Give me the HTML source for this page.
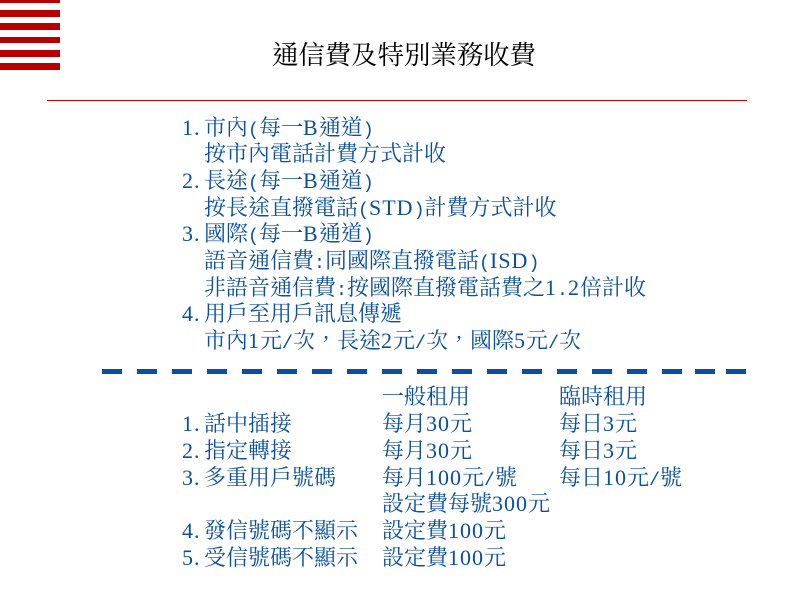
<!DOCTYPE html>
<html><head><meta charset="utf-8"><style>
body{margin:0;width:800px;height:600px;background:#fff;position:relative;overflow:hidden}
.s{position:absolute;left:0;width:60px;background:#b80000}
.t{position:absolute;white-space:nowrap;font-family:"Liberation Serif","Noto Serif CJK TC","Noto Serif CJK SC",serif;font-size:22px;line-height:22px;color:#0a4fa2}
.t b{font-weight:normal;font-family:"Liberation Serif",serif;font-size:22px;letter-spacing:1px}
.t i{font-style:normal;font-family:"Liberation Mono",monospace;font-size:18.3px}
.d{position:absolute;top:369px;width:20px;height:5px;background:#0a4fa2}
</style></head><body>
<div class="s" style="top:0;height:3px"></div>
<div class="s" style="top:10px;height:7px"></div>
<div class="s" style="top:23px;height:7px"></div>
<div class="s" style="top:37px;height:6px"></div>
<div class="s" style="top:50px;height:7px"></div>
<div class="s" style="top:63px;height:7px"></div>
<div class="t" style="left:272px;top:42px;font-size:26.4px;line-height:26px;color:#000">通信費及特別業務收費</div>
<div style="position:absolute;left:47px;top:100px;width:700px;height:1px;background:#d00000"></div>

<div class="t" style="left:182px;top:117px"><b>1.</b></div><div class="t" style="left:204px;top:117px">市內<i>(</i>每一<b>B</b>通道<i>)</i></div>
<div class="t" style="left:204px;top:143px">按市內電話計費方式計收</div>
<div class="t" style="left:182px;top:170px"><b>2.</b></div><div class="t" style="left:204px;top:170px">長途<i>(</i>每一<b>B</b>通道<i>)</i></div>
<div class="t" style="left:204px;top:197px">按長途直撥電話<i>(</i><b>STD</b><i>)</i>計費方式計收</div>
<div class="t" style="left:182px;top:223px"><b>3.</b></div><div class="t" style="left:204px;top:223px">國際<i>(</i>每一<b>B</b>通道<i>)</i></div>
<div class="t" style="left:204px;top:250px">語音通信費<i>:</i>同國際直撥電話<i>(</i><b>ISD</b><i>)</i></div>
<div class="t" style="left:204px;top:277px">非語音通信費<i>:</i>按國際直撥電話費之<b>1</b><i>.</i><b>2</b>倍計收</div>
<div class="t" style="left:182px;top:303px"><b>4.</b></div><div class="t" style="left:204px;top:303px">用戶至用戶訊息傳遞</div>
<div class="t" style="left:204px;top:330px">市內<b>1</b>元<i>/</i>次，長途<b>2</b>元<i>/</i>次，國際<b>5</b>元<i>/</i>次</div>

<div class="d" style="left:102px"></div><div class="d" style="left:137px"></div><div class="d" style="left:172px"></div><div class="d" style="left:207px"></div><div class="d" style="left:242px"></div><div class="d" style="left:277px"></div><div class="d" style="left:312px"></div><div class="d" style="left:347px"></div><div class="d" style="left:382px"></div><div class="d" style="left:417px"></div><div class="d" style="left:452px"></div><div class="d" style="left:487px"></div><div class="d" style="left:522px"></div><div class="d" style="left:557px"></div><div class="d" style="left:592px"></div><div class="d" style="left:627px"></div><div class="d" style="left:662px"></div><div class="d" style="left:695px"></div><div class="d" style="left:726px"></div>

<div class="t" style="left:382px;top:386px">一般租用</div><div class="t" style="left:559px;top:386px">臨時租用</div>
<div class="t" style="left:182px;top:413px"><b>1.</b></div><div class="t" style="left:204px;top:413px">話中插接</div><div class="t" style="left:382px;top:413px">每月<b>30</b>元</div><div class="t" style="left:559px;top:413px">每日<b>3</b>元</div>
<div class="t" style="left:182px;top:440px"><b>2.</b></div><div class="t" style="left:204px;top:440px">指定轉接</div><div class="t" style="left:382px;top:440px">每月<b>30</b>元</div><div class="t" style="left:559px;top:440px">每日<b>3</b>元</div>
<div class="t" style="left:182px;top:467px"><b>3.</b></div><div class="t" style="left:204px;top:467px">多重用戶號碼</div><div class="t" style="left:382px;top:467px">每月<b>100</b>元<i>/</i>號</div><div class="t" style="left:559px;top:467px">每日<b>10</b>元<i>/</i>號</div>
<div class="t" style="left:382px;top:493px">設定費每號<b>300</b>元</div>
<div class="t" style="left:182px;top:520px"><b>4.</b></div><div class="t" style="left:204px;top:520px">發信號碼不顯示</div><div class="t" style="left:382px;top:520px">設定費<b>100</b>元</div>
<div class="t" style="left:182px;top:547px"><b>5.</b></div><div class="t" style="left:204px;top:547px">受信號碼不顯示</div><div class="t" style="left:382px;top:547px">設定費<b>100</b>元</div>
</body></html>
